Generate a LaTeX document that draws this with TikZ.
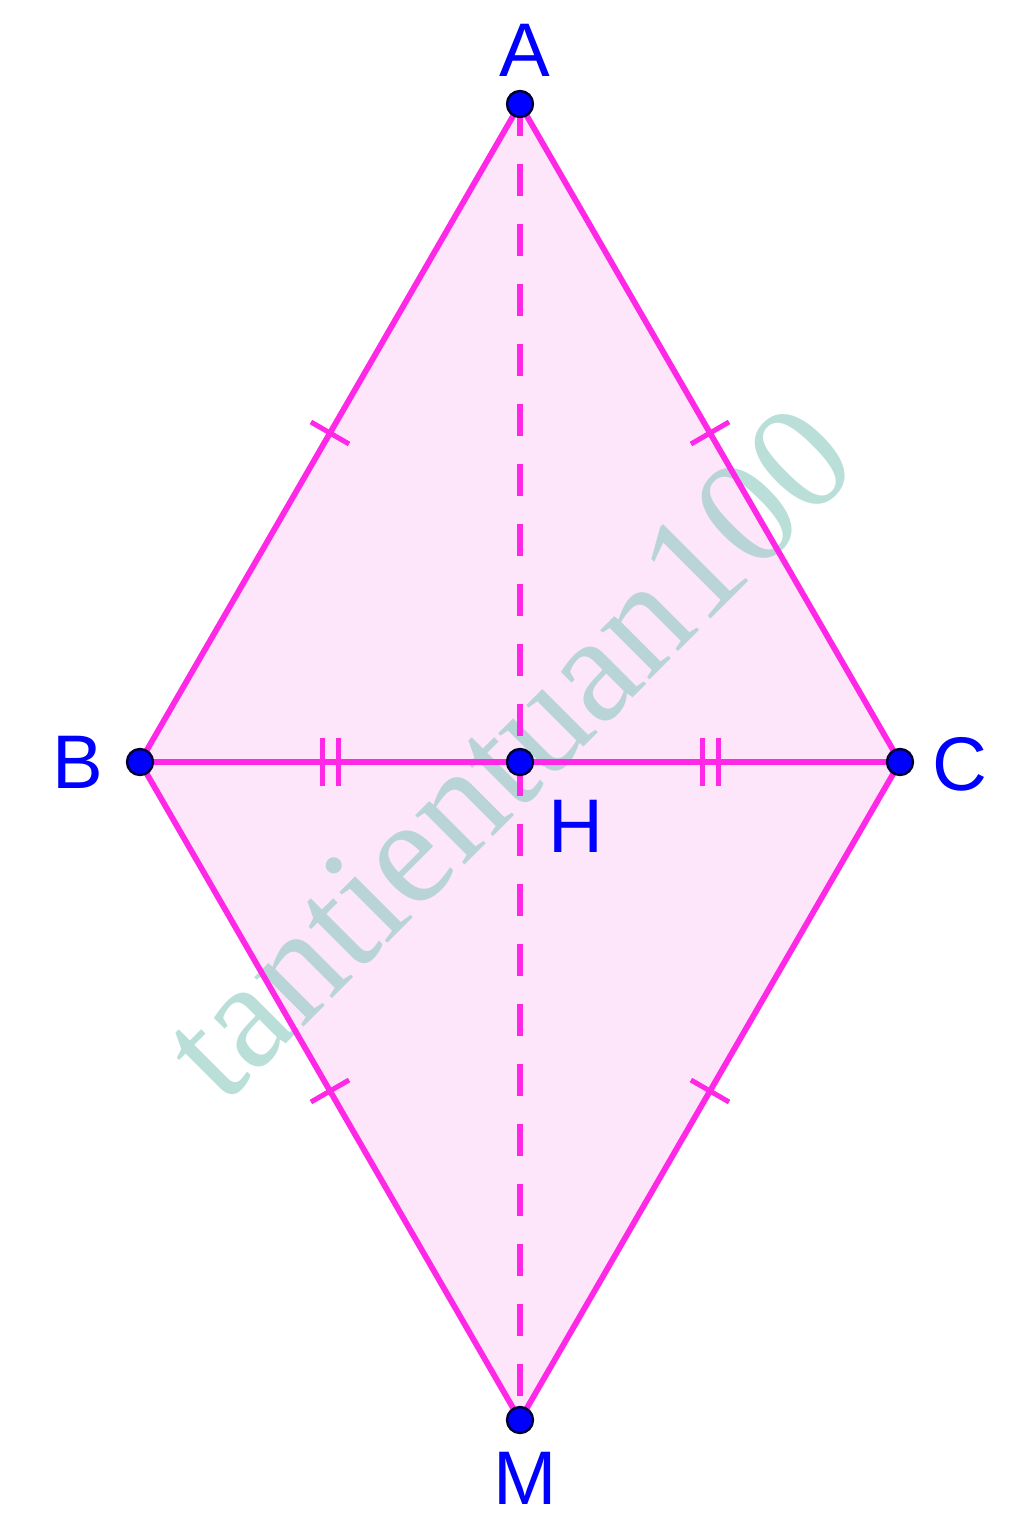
\documentclass[tikz,border=0pt]{standalone}
\usepackage{fontspec}
\setmainfont{Liberation Sans}
\newfontfamily\wmfont{Liberation Serif}
\usetikzlibrary{calc}
\definecolor{edge}{RGB}{255,40,230}
\definecolor{face}{RGB}{253,230,250}
\definecolor{ptblue}{RGB}{0,0,255}
\definecolor{wm}{RGB}{140,200,190}
\tikzset{
  side/.style={draw=edge, line width=2.9pt},
  hidden/.style={draw=edge, line width=2.9pt, dash pattern=on 16pt off 14pt},
  tick/.style={draw=edge, line width=2.5pt},
  pt/.style={circle, fill=ptblue, draw=black!80!blue, line width=1.2pt, inner sep=0pt, minimum size=13pt},
  lbl/.style={text=ptblue, font=\fontsize{38}{40}\selectfont, inner sep=0pt},
}
\begin{document}
\begin{tikzpicture}[x=0.5pt,y=-0.5pt]
\useasboundingbox (0,0) rectangle (1024,1533);
\coordinate (A) at (520,104);
\coordinate (B) at (140,762);
\coordinate (C) at (900,762);
\coordinate (H) at (520,762);
\coordinate (M) at (520,1420);
\fill[face] (A) -- (C) -- (M) -- (B) -- cycle;
% watermark
\node[rotate=45, text=wm, opacity=0.6, font=\wmfont\fontsize{76}{78}\selectfont, inner sep=0pt] (wm) at (508,752) {tantientuan100};
\draw[side] (A) -- (C) -- (M) -- (B) -- cycle;
\draw[side] (B) -- (C);
\draw[hidden] (A) -- (M);
% single ticks
\foreach \P/\Q in {A/B, A/C, M/B, M/C}{
  \draw[tick] ($(\P)!0.5!(\Q)!11pt!90:(\Q)$) -- ($(\P)!0.5!(\Q)!11pt!-90:(\Q)$);
}
% double ticks
\foreach \P/\Q in {B/H, H/C}{
  \draw[tick] ($($(\P)!0.5!(\Q)$)+(-8,-24)$) -- ($($(\P)!0.5!(\Q)$)+(-8,24)$);
  \draw[tick] ($($(\P)!0.5!(\Q)$)+(8,-24)$) -- ($($(\P)!0.5!(\Q)$)+(8,24)$);
}
\node[pt] (pA) at (A) {};
\node[pt] (pB) at (B) {};
\node[pt] (pC) at (C) {};
\node[pt] (pH) at (H) {};
\node[pt] (pM) at (M) {};
\node[lbl] (lA) at (525,50) {A};
\node[lbl] (lB) at (78,762) {B};
\node[lbl] (lC) at (960,764) {C};
\node[lbl] (lH) at (576,826) {H};
\node[lbl] (lM) at (525,1478) {M};
\end{tikzpicture}
\end{document}
